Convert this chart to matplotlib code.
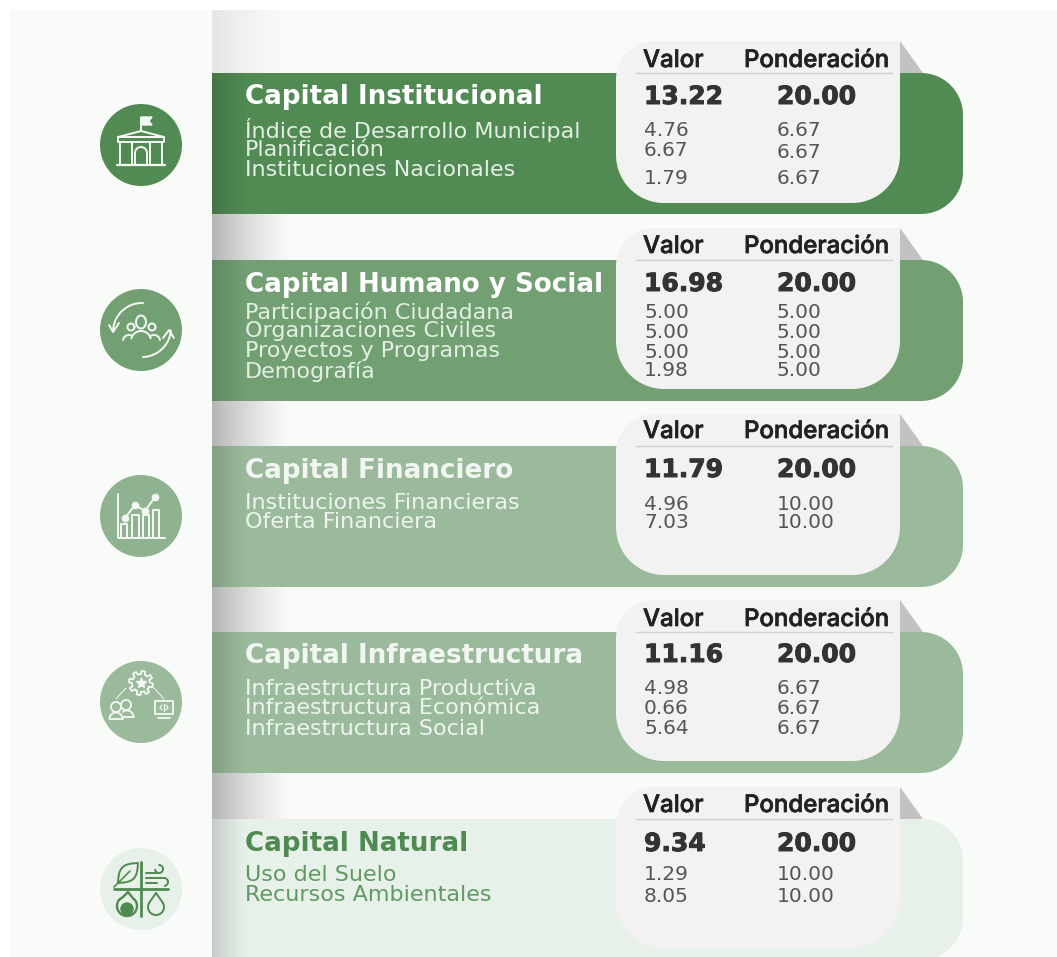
import matplotlib
matplotlib.use('Agg')
import matplotlib.pyplot as plt
import matplotlib.patheffects as pe
import numpy as np
from matplotlib.patches import Circle, PathPatch, Polygon
from matplotlib.path import Path

# data
titles = ['Capital Institucional', 'Capital Humano y Social', 'Capital Financiero',
          'Capital Infraestructura', 'Capital Natural']
totals = ['13.22', '16.98', '11.79', '11.16', '9.34']
total_weights = ['20.00', '20.00', '20.00', '20.00', '20.00']
items_inst = ['Índice de Desarrollo Municipal', 'Planificación', 'Instituciones Nacionales']
items_hum = ['Participación Ciudadana', 'Organizaciones Civiles', 'Proyectos y Programas', 'Demografía']
items_fin = ['Instituciones Financieras', 'Oferta Financiera']
items_infra = ['Infraestructura Productiva', 'Infraestructura Económica', 'Infraestructura Social']
items_nat = ['Uso del Suelo', 'Recursos Ambientales']
vals_inst = ['4.76', '6.67', '1.79']
vals_hum = ['5.00', '5.00', '5.00', '1.98']
vals_fin = ['4.96', '7.03']
vals_infra = ['4.98', '0.66', '5.64']
vals_nat = ['1.29', '8.05']
wgts_inst = ['6.67', '6.67', '6.67']
wgts_hum = ['5.00', '5.00', '5.00', '5.00']
wgts_fin = ['10.00', '10.00']
wgts_infra = ['6.67', '6.67', '6.67']
wgts_nat = ['10.00', '10.00']

items = [items_inst, items_hum, items_fin, items_infra, items_nat]
vals = [vals_inst, vals_hum, vals_fin, vals_infra, vals_nat]
wgts = [wgts_inst, wgts_hum, wgts_fin, wgts_infra, wgts_nat]

# layout (pixels)
band_top = [73, 260, 446, 632, 819]
band_bot = [214, 401, 587, 773, 960]
card_top = [41, 228, 414, 600, 787]
card_bot = [203, 389, 575, 761, 948]
title_y = [97, 285, 471, 656, 844]
total_y = [97, 284, 470, 655, 844]
header_y = [61, 247, 432, 620, 806]
item_y = [[130, 150, 170], [312, 331, 351, 371], [503, 522], [689, 708, 729], [875, 895]]
val_y = [[130, 151, 179], [312, 332, 352, 371], [504, 523], [689, 708, 729], [875, 896]]
wgt_y = [[130, 153, 178], [312, 332, 352, 371], [504, 523], [689, 708, 729], [875, 896]]
icon_y = [145, 330, 516, 702, 889]
band_col = ['#518a53', '#72a073', '#9aba9b', '#9aba9b', '#e8f0ea']
circle_col = ['#518a53', '#72a073', '#8fb290', '#9aba9b', '#e8f0ea']
title_col = ['#ffffff', '#ffffff', '#f2f6f2', '#f2f6f2', '#4f8a52']
item_col = ['#e3efe3', '#e3efe3', '#eef4ee', '#eef4ee', '#5f9a62']


def round_shape(x0, y0, x1, y1, tl, tr, br, bl):
    pts = []
    corners = [(x0 + tl, y0 + tl, tl, 180), (x1 - tr, y0 + tr, tr, 270),
               (x1 - br, y1 - br, br, 0), (x0 + bl, y1 - bl, bl, 90)]
    for cx, cy, r, a in corners:
        t = np.deg2rad(np.linspace(a, a + 90, 24))
        pts.append(np.column_stack([cx + r * np.cos(t), cy + r * np.sin(t)]))
    return Path(np.vstack(pts), closed=False)


def line(ax, xs, ys, col, lw=1.4):
    ax.plot(xs, ys, color=col, lw=lw, solid_capstyle='round', solid_joinstyle='round', zorder=6)


def arc(ax, cx, cy, r, a0, a1, col, lw=1.4):
    t = np.deg2rad(np.linspace(a0, a1, 40))
    line(ax, cx + r * np.cos(t), cy + r * np.sin(t), col, lw)


def icon_building(ax, cx, cy, c):
    line(ax, [cx, cx], [cy - 14, cy - 27], c)
    ax.add_patch(Polygon([(cx, cy - 28), (cx + 11, cy - 28), (cx + 8, cy - 24), (cx + 11, cy - 20), (cx, cy - 20)],
                         fc=c, ec=c, zorder=6))
    line(ax, [cx - 23, cx, cx + 23, cx - 23], [cy - 8, cy - 14, cy - 8, cy - 8], c)
    line(ax, [cx - 23, cx + 23, cx + 23, cx - 23, cx - 23], [cy - 8, cy - 8, cy - 3, cy - 3, cy - 8], c)
    line(ax, [cx - 24, cx + 24], [cy + 20, cy + 20], c, 1.6)
    for dx in [-21, -9, 9, 21]:
        line(ax, [cx + dx, cx + dx], [cy - 3, cy + 20], c)
    line(ax, [cx - 6, cx - 6], [cy + 20, cy + 8], c)
    line(ax, [cx + 6, cx + 6], [cy + 20, cy + 8], c)
    arc(ax, cx, cy + 8, 6, 180, 360, c)


def icon_people(ax, cx, cy, c):
    t = np.linspace(0, 2 * np.pi, 40)
    line(ax, cx + 5 * np.cos(t), cy - 8 + 6.5 * np.sin(t), c)
    arc(ax, cx, cy + 11, 10, 195, 345, c)
    arc(ax, cx - 10, cy - 3, 3.5, 0, 360, c)
    arc(ax, cx + 11, cy - 3, 3.5, 0, 360, c)
    arc(ax, cx - 12, cy + 11, 6, 190, 300, c)
    arc(ax, cx + 13, cy + 11, 6, 240, 350, c)
    arc(ax, cx + 1, cy + 2, 29, 185, 272, c)
    line(ax, [cx - 32, cx - 28, cx - 22], [cy - 5, cy + 2, cy - 7], c)
    arc(ax, cx + 1, cy - 2, 29, 5, 88, c)
    line(ax, [cx + 22, cx + 28, cx + 33], [cy + 8, cy, cy + 8], c)


def icon_chart(ax, cx, cy, c):
    line(ax, [cx - 23, cx - 23, cx + 24], [cy - 22, cy + 22, cy + 22], c)
    for x0, x1, top in zip([-20, -9, 2, 12], [-14, -2, 8, 18], [8, -1, -1, -6]):
        line(ax, [cx + x0, cx + x0, cx + x1, cx + x1], [cy + 22, cy + top, cy + top, cy + 22], c)
    xs = [cx - 16, cx - 6, cx + 4, cx + 14]
    ys = [cy + 2, cy - 11, cy - 5, cy - 19]
    line(ax, xs, ys, c)
    ax.plot(xs, ys, 'o', color=c, ms=4.5, zorder=6)


def icon_network(ax, cx, cy, c):
    t = np.deg2rad(np.arange(0, 360, 3))
    r = 10.5 + 1.6 * np.sign(np.sin(8 * t))
    line(ax, cx + r * np.cos(t), cy - 19 + r * np.sin(t), c, 1.3)
    ax.plot([cx], [cy - 19], marker='*', color=c, ms=8, zorder=6)
    line(ax, [cx - 15, cx - 25], [cy - 14, cy - 3], c, 0.7)
    line(ax, [cx + 13, cx + 23], [cy - 14, cy - 3], c, 0.7)
    arc(ax, cx - 25, cy + 5, 5, 0, 360, c, 1.3)
    arc(ax, cx - 15, cy + 3, 5, 0, 360, c, 1.3)
    arc(ax, cx - 25, cy + 17, 6.5, 180, 360, c, 1.3)
    line(ax, [cx - 31.5, cx - 18.5], [cy + 17, cy + 17], c, 1.3)
    arc(ax, cx - 14, cy + 15, 6.5, 230, 360, c, 1.3)
    line(ax, [cx - 18, cx - 7.5], [cy + 15, cy + 15], c, 1.3)
    line(ax, [cx + 14, cx + 32, cx + 32, cx + 14, cx + 14], [cy - 1, cy - 1, cy + 12, cy + 12, cy - 1], c, 1.3)
    line(ax, [cx + 17, cx + 29], [cy + 16, cy + 16], c, 1.3)
    line(ax, [cx + 21, cx + 19, cx + 21], [cy + 3, cy + 5.5, cy + 8], c, 0.9)
    line(ax, [cx + 25, cx + 27, cx + 25], [cy + 3, cy + 5.5, cy + 8], c, 0.9)
    line(ax, [cx + 23, cx + 23], [cy + 2, cy + 9], c, 0.9)


def icon_elements(ax, cx, cy, c):
    line(ax, [cx - 27, cx + 27], [cy, cy], c, 2)
    line(ax, [cx, cx], [cy - 27, cy + 27], c, 2)
    # hoja
    t = np.linspace(0, 1, 30)
    bulge = 8 * np.sin(np.pi * t)
    lx = cx - 23 + 20 * t
    ly = cy - 6 - 20 * t
    line(ax, np.r_[lx + 0.7 * bulge, (lx - 0.7 * bulge)[::-1]], np.r_[ly + 0.7 * bulge, (ly - 0.7 * bulge)[::-1]], c)
    line(ax, [cx - 27, cx - 11], [cy - 2, cy - 18], c, 1.2)
    # viento
    line(ax, [cx + 5, cx + 18], [cy - 16, cy - 16], c)
    arc(ax, cx + 18, cy - 20, 4, -90, 170, c)
    line(ax, [cx + 5, cx + 23], [cy - 11, cy - 11], c)
    arc(ax, cx + 23, cy - 7, 4, 270, 440, c)
    line(ax, [cx + 5, cx + 16], [cy - 6, cy - 6], c)
    # fuego
    arc(ax, cx - 14, cy + 17, 10, -40, 220, c, 1.7)
    line(ax, [cx - 21.5, cx - 18, cx - 13, cx - 7], [cy + 10.5, cy + 8, cy + 3, cy + 10.5], c, 1.7)
    ax.add_patch(Circle((cx - 14, cy + 20), 6, fc=c, ec=c, zorder=6))
    # gota
    line(ax, [cx + 15, cx + 8], [cy + 4, cy + 14], c)
    line(ax, [cx + 15, cx + 22], [cy + 4, cy + 14], c)
    arc(ax, cx + 15, cy + 18, 8, -30, 210, c)


icon_funcs = [icon_building, icon_people, icon_chart, icon_network, icon_elements]
icon_col = ['#f4f8f4', '#f4f8f4', '#f4f8f4', '#f4f8f4', '#4f8a52']

fig = plt.figure(figsize=(10.57, 9.57), dpi=100, facecolor='white')
ax = fig.add_axes([0, 0, 1, 1])
ax.axis('off')

ax.add_patch(plt.Rectangle((10, 10), 1047, 947, fc='#f9fbf9', ec='none', zorder=0))

fade = np.zeros((1, 256, 4))
fade[0, :, 3] = 0.28 * np.linspace(1, 0, 256) ** 1.4
heavy = [pe.withStroke(linewidth=0.7, foreground='#333333')]
medium = [pe.withStroke(linewidth=0.5, foreground='#222222')]

for k in range(5):
    # sombra en el hueco sobre la banda
    prev = band_bot[k - 1] if k > 0 else 10
    a = 0.3 if k == 0 else 1
    ax.imshow(fade * [1, 1, 1, a], extent=(212, 295, band_top[k], prev), aspect='auto', zorder=1)
    band = round_shape(212, band_top[k], 963, band_bot[k], 0, 42, 42, 0)
    ax.add_patch(PathPatch(band, fc=band_col[k], ec='none', zorder=2))
    ax.imshow(fade * [1, 1, 1, 0.55], extent=(212, 250, band_bot[k], band_top[k]), aspect='auto', zorder=3)
    # pestaña y tarjeta
    ax.add_patch(Polygon([(900, card_top[k]), (923, band_top[k]), (900, band_top[k])], fc='#c2c2c2', ec='none', zorder=2))
    card = round_shape(616, card_top[k], 900, card_bot[k], 38, 0, 48, 48)
    ax.add_patch(PathPatch(card, fc='#f2f2f2', ec='none', zorder=4))
    ax.plot([636, 892], [band_top[k], band_top[k]], color='#c9d6cc', lw=1, zorder=5)

    ax.text(643, header_y[k], 'Valor', fontsize=17.3, family='Inter', weight='medium', color='#222222', va='center', zorder=6, path_effects=medium)
    ax.text(744, header_y[k], 'Ponderación', fontsize=17.3, family='Inter', weight='medium', color='#222222', va='center', zorder=6, path_effects=medium)
    ax.text(644, total_y[k], totals[k], fontsize=18, weight='bold', color='#333333', va='center', zorder=6, path_effects=heavy)
    ax.text(777, total_y[k], total_weights[k], fontsize=18, weight='bold', color='#333333', va='center', zorder=6, path_effects=heavy)
    ax.text(245, title_y[k], titles[k], fontsize=18.8, weight='bold', color=title_col[k], va='center', zorder=6)
    for name, y in zip(items[k], item_y[k]):
        ax.text(245, y, name, fontsize=16, color=item_col[k], va='center', zorder=6)
    for v, y in zip(vals[k], val_y[k]):
        ax.text(644, y, v, fontsize=14.5, color='#555555', va='center', zorder=6)
    for w, y in zip(wgts[k], wgt_y[k]):
        ax.text(777, y, w, fontsize=14.5, color='#555555', va='center', zorder=6)

    ax.add_patch(Circle((141, icon_y[k]), 41, fc=circle_col[k], ec='none', zorder=5))
    icon_funcs[k](ax, 141, icon_y[k], icon_col[k])

ax.set_xlim(0, 1057)
ax.set_ylim(957, 0)
fig.savefig('out.png', dpi=100)
